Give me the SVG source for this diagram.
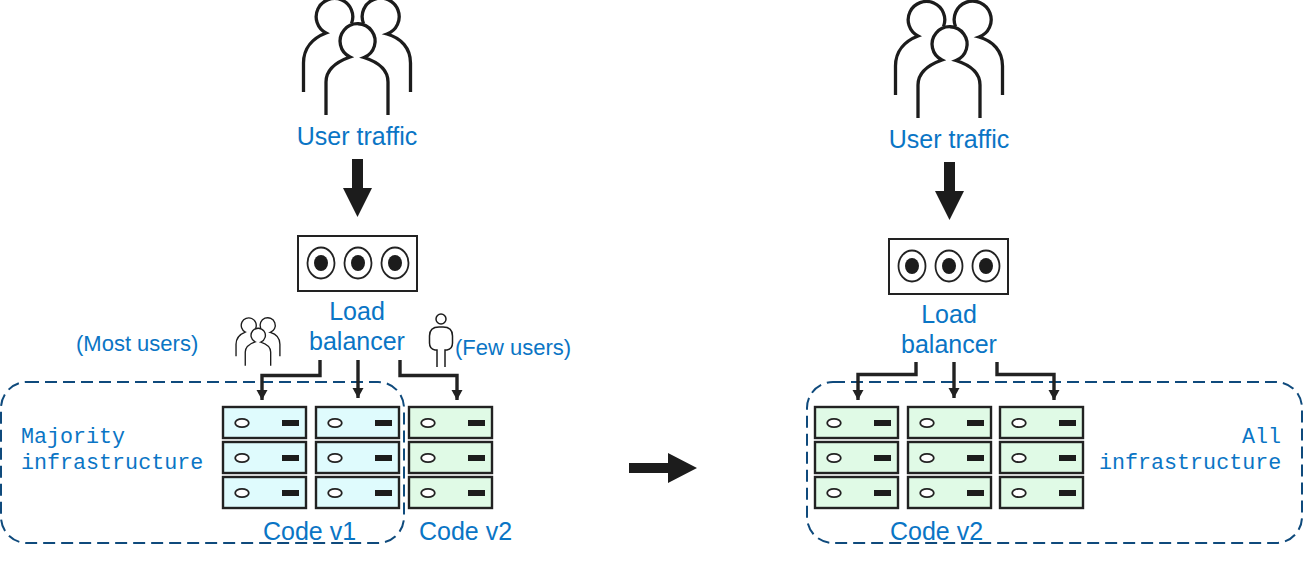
<svg xmlns="http://www.w3.org/2000/svg" xmlns:xlink="http://www.w3.org/1999/xlink" width="1309" height="561" viewBox="0 0 1309 561">
<style>
text{font-family:"Liberation Sans",Arial,sans-serif;fill:#0a75c5;font-size:25px}
.c{text-anchor:middle}
.s{font-size:22px}
.m{font-family:"Liberation Mono","DejaVu Sans Mono",monospace;font-size:21.7px}
.lb{fill:#fff;stroke:#222;stroke-width:2}
.o{fill:#fff;stroke:#222;stroke-width:1.8}
.k{fill:#1c1c1c}
.wire{fill:none;stroke:#222;stroke-width:3.4;marker-end:url(#ah)}
.big{fill:#1c1c1c}
.b{fill:#dffbfd}
.g{fill:#e0fae6}
.fr{stroke:#222;stroke-width:2.4}
</style>
<defs>
<marker id="ah" markerUnits="userSpaceOnUse" markerWidth="12" markerHeight="12" refX="11" refY="6" orient="auto"><path d="M1 0.500L11 6L1 11.500z" fill="#222"/></marker>
<g id="crowd" fill="none" stroke="#1c1c1c" stroke-width="3.3">
<path d="M13.500 92V63C13.500 48 23 38 36 33A18.300 18.300 0 1 1 61.500 23.500"/>
<path d="M73.500 23.500A18.500 18.500 0 1 1 97 34C111 38 120.500 48 120.500 63V92"/>
<path d="M36 115V82C36 70 46 62 60 57A17.500 17.500 0 1 1 74 57.500C88 62 98 70 98 82V115"/>
</g>
<g id="srv"><rect class="fr" width="83" height="31"/><ellipse class="o" cx="19" cy="16" rx="6.800" ry="4.200"/><rect class="k" x="59" y="13" width="17" height="6"/></g>
<g id="rackb"><use xlink:href="#srv" class="b" y="0"/><use xlink:href="#srv" class="b" y="35"/><use xlink:href="#srv" class="b" y="70"/></g>
<g id="rackg"><use xlink:href="#srv" class="g" y="0"/><use xlink:href="#srv" class="g" y="35"/><use xlink:href="#srv" class="g" y="70"/></g>
<g id="lbx"><rect class="lb" width="119" height="55"/>
<ellipse class="o" cx="23" cy="27" rx="13.500" ry="15.500"/><ellipse class="k" cx="23" cy="27" rx="7" ry="8"/>
<ellipse class="o" cx="60" cy="27" rx="13.500" ry="15.500"/><ellipse class="k" cx="60" cy="27" rx="7" ry="8"/>
<ellipse class="o" cx="97" cy="27" rx="13.500" ry="15.500"/><ellipse class="k" cx="97" cy="27" rx="7" ry="8"/></g>
<path id="down" d="M352 159H363V188H372L357.500 217L343 188H352Z"/>
</defs>

<g id="zone-majority"><rect x="1" y="382" width="403" height="161" rx="26" fill="none" stroke="#0f4a7c" stroke-width="2" stroke-dasharray="12,6"/></g>
<g id="zone-all"><rect x="807" y="382" width="495" height="161" rx="26" fill="none" stroke="#0f4a7c" stroke-width="2" stroke-dasharray="12,6"/></g>

<g id="users-left"><use xlink:href="#crowd" x="290" y="0"/><text class="c" x="357" y="145">User traffic</text></g>
<g id="users-right"><use xlink:href="#crowd" x="882" y="3"/><text class="c" x="949" y="148">User traffic</text></g>

<g id="lb-left"><use xlink:href="#lbx" x="298" y="236"/><text class="c" x="357" y="320">Load</text><text class="c" x="357" y="350">balancer</text></g>
<g id="lb-right"><use xlink:href="#lbx" x="889" y="239"/><text class="c" x="949" y="323">Load</text><text class="c" x="949" y="353">balancer</text></g>

<g id="most-users"><g transform="translate(230.500,318.500) scale(.41)"><use xlink:href="#crowd"/></g><text class="s" x="76" y="351">(Most users)</text></g>
<g id="few-users"><g fill="none" stroke="#1c1c1c" stroke-width="1.500"><circle cx="441" cy="319" r="5"/><path d="M437 367V350H435Q429.500 349 429.500 343V336Q429.500 327 439 327H443Q452.500 327 452.500 336V343Q452.500 349 447 350H445V367"/></g><text class="s" x="455" y="355">(Few users)</text></g>

<g id="servers-v1"><use xlink:href="#rackb" x="223" y="407"/><use xlink:href="#rackb" x="316" y="407"/><text x="263" y="540">Code v1</text></g>
<g id="servers-v2-left"><use xlink:href="#rackg" x="409" y="407"/><text x="419" y="540">Code v2</text></g>
<g id="servers-v2-right"><use xlink:href="#rackg" x="815" y="407"/><use xlink:href="#rackg" x="908" y="407"/><use xlink:href="#rackg" x="1000" y="407"/><text x="890" y="540">Code v2</text></g>

<g id="label-majority"><text class="m" x="21" y="443">Majority</text><text class="m" x="21" y="469">infrastructure</text></g>
<g id="label-all"><text class="m" x="1281" y="443" text-anchor="end">All</text><text class="m" x="1099" y="469">infrastructure</text></g>

<g id="connectors">
<use xlink:href="#down" class="big"/>
<use xlink:href="#down" class="big" x="592" y="3"/>
<path class="big" d="M629 463H668V453L697 468L668 483V473H629Z"/>
<path class="wire" d="M320 360V375.500H262V400"/>
<path class="wire" d="M358 360V398"/>
<path class="wire" d="M400 360V375.500H457V400"/>
<path class="wire" d="M916 362V374.500H858V400"/>
<path class="wire" d="M954 362V398"/>
<path class="wire" d="M997 362V374.500H1054V400"/>
</g>
</svg>
